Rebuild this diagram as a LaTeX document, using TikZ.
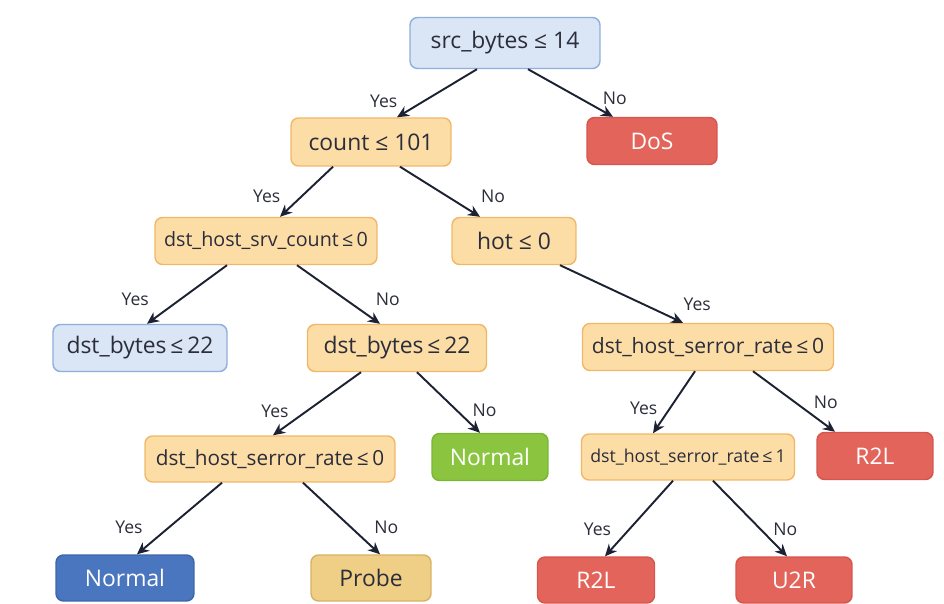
\documentclass[tikz,border=0pt]{standalone}
\usepackage{fontspec}
\setmainfont{Open Sans}
\usepackage{tikz}
\usetikzlibrary{arrows.meta}
\definecolor{boxblue}{HTML}{DAE6F5}
\definecolor{boxblueline}{HTML}{8FAEDB}
\definecolor{boxorange}{HTML}{FDDDA6}
\definecolor{boxorangeline}{HTML}{F0B866}
\definecolor{leafred}{HTML}{E3645A}
\definecolor{leafredline}{HTML}{D6554C}
\definecolor{leafgreen}{HTML}{8BC540}
\definecolor{leafgreenline}{HTML}{7AB535}
\definecolor{leafblue}{HTML}{4A76BF}
\definecolor{leafblueline}{HTML}{3D66AA}
\definecolor{leafprobe}{HTML}{EFCF85}
\definecolor{leafprobeline}{HTML}{D5B263}
\definecolor{txtcol}{HTML}{2B2D3A}
\definecolor{arrcol}{HTML}{1C2233}

\begin{document}
\begin{tikzpicture}[x=0.02cm, y=-0.02cm, >={Stealth[length=2.4mm,width=2.2mm]},
 arr/.style={->, draw=arrcol, line width=1.1pt},
 box/.style={draw, rectangle, rounded corners=1.5mm, minimum height=0.94cm, inner sep=1pt, line width=0.8pt, text=txtcol, font=\fontsize{13}{15}\selectfont},
 qblue/.style={box, fill=boxblue, draw=boxblueline},
 qorange/.style={box, fill=boxorange, draw=boxorangeline},
 lred/.style={box, fill=leafred, draw=leafredline, text=white},
 lgreen/.style={box, fill=leafgreen, draw=leafgreenline, text=white},
 lblue/.style={box, fill=leafblue, draw=leafblueline, text=white},
 lprobe/.style={box, fill=leafprobe, draw=leafprobeline},
 lab/.style={font=\fontsize{10}{12}\selectfont, text=txtcol, inner sep=0pt}]
\useasboundingbox (0,0) rectangle (944,604);
% split nodes
\node[qblue, minimum width=3.8cm, minimum height=1.02cm] (root) at (505,43) {src\_bytes ≤ 14};
\node[qorange, minimum width=3.2cm, minimum height=0.96cm] (count) at (371,142) {count ≤ 101};
\node[qorange, minimum width=4.44cm, font=\fontsize{11.2}{13}\selectfont] (srv) at (266,241) {dst\_host\_srv\_count\,≤\,0};
\node[qorange, minimum width=2.48cm] (hot) at (514,241) {hot ≤ 0};
\node[qblue, minimum width=3.48cm] (bytesa) at (140,348) {dst\_bytes\,≤\,22};
\node[qorange, minimum width=3.58cm] (bytesb) at (397,348) {dst\_bytes\,≤\,22};
\node[qorange, minimum width=5.02cm, font=\fontsize{12}{14}\selectfont] (serrb) at (708,347) {dst\_host\_serror\_rate\,≤\,0};
\node[qorange, minimum width=5cm, minimum height=0.92cm, font=\fontsize{11.8}{14}\selectfont] (serra) at (270,459) {dst\_host\_serror\_rate\,≤\,0};
\node[qorange, minimum width=4.26cm, minimum height=0.92cm, font=\fontsize{10.1}{12}\selectfont] (serrc) at (688,457) {dst\_host\_serror\_rate\,≤\,1};
% leaves
\node[lred, minimum width=2.6cm] (dos) at (652,141) {DoS};
\node[lgreen, minimum width=2.32cm] (normb) at (490,457) {Normal};
\node[lred, minimum width=2.32cm] (rtla) at (875,456) {R2L};
\node[lblue, minimum width=2.76cm, minimum height=0.92cm] (norma) at (125,578) {Normal};
\node[lprobe, minimum width=2.4cm, minimum height=0.92cm] (probe) at (371,578) {Probe};
\node[lred, minimum width=2.34cm, minimum height=0.92cm] (rtlb) at (596,580) {R2L};
\node[lred, minimum width=2.32cm, minimum height=0.92cm] (utr) at (794,580) {U2R};
% branches
\draw[arr] ([xshift=-5.6mm]root.south) -- node[lab, pos=0.66, left=5.2mm]{Yes} ([xshift=5.2mm]count.north);
\draw[arr] ([xshift=4.6mm]root.south) -- node[lab, pos=0.61, right=4.4mm]{No} ([xshift=-7.8mm]dos.north);
\draw[arr] ([xshift=-7.6mm]count.south) -- node[lab, pos=0.59, left=4.1mm]{Yes} ([xshift=2.8mm]srv.north);
\draw[arr] ([xshift=5.8mm]count.south) -- node[lab, pos=0.59, right=6.6mm]{No} ([xshift=-6.8mm]hot.north);
\draw[arr] ([xshift=-7.8mm]srv.south) -- node[lab, pos=0.59, left=6mm]{Yes} ([xshift=1.4mm]bytesa.north);
\draw[arr] ([xshift=6.2mm]srv.south) -- node[lab, pos=0.59, right=5.8mm]{No} ([xshift=-3.4mm]bytesb.north);
\draw[arr] ([xshift=9.2mm]hot.south) -- node[lab, pos=0.68, right=7.8mm]{Yes} ([xshift=-5mm]serrb.north);
\draw[arr] ([xshift=-7.2mm]bytesb.south) -- node[lab, pos=0.62, left=3.4mm]{Yes} ([xshift=0.6mm]serra.north);
\draw[arr] ([xshift=4mm]bytesb.south) -- node[lab, pos=0.63, right=3mm]{No} ([xshift=-2mm]normb.north);
\draw[arr] ([xshift=-2.6mm]serrb.south) -- node[lab, pos=0.59, left=2.4mm]{Yes} ([xshift=-7mm]serrc.north);
\draw[arr] ([xshift=9mm]serrb.south) -- node[lab, pos=0.51, right=3.6mm]{No} ([xshift=-8mm]rtla.north);
\draw[arr] ([xshift=-9.6mm]serra.south) -- node[lab, pos=0.63, left=5mm]{Yes} ([xshift=2.4mm]norma.north);
\draw[arr] ([xshift=6.6mm]serra.south) -- node[lab, pos=0.63, right=4.4mm]{No} ([xshift=1.8mm]probe.north);
\draw[arr] ([xshift=-3mm]serrc.south) -- node[lab, pos=0.64, left=3.5mm]{Yes} ([xshift=1.8mm]rtlb.north);
\draw[arr] ([xshift=5mm]serrc.south) -- node[lab, pos=0.64, right=2.4mm]{No} ([xshift=-1.4mm]utr.north);
\end{tikzpicture}
\end{document}
